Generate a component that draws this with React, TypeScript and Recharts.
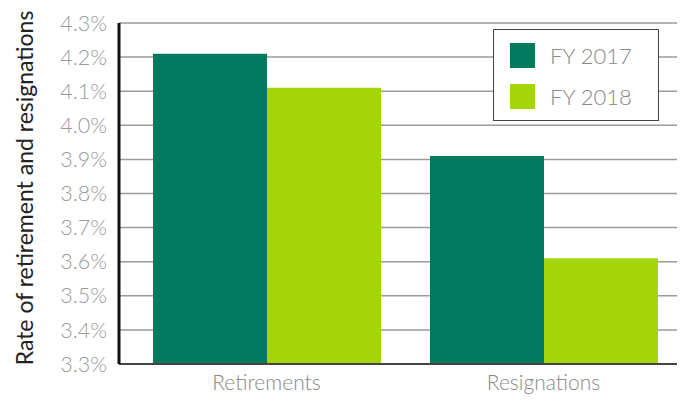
import React from 'react';
import { BarChart, Bar, XAxis, YAxis, CartesianGrid, Legend } from 'recharts';

const categories = ['Retirements', 'Resignations'];
const fy2017 = [4.21, 3.91];
const fy2018 = [4.11, 3.61];
const yTicks = [3.3, 3.4, 3.5, 3.6, 3.7, 3.8, 3.9, 4.0, 4.1, 4.2, 4.3];
const seriesNames = ['FY 2017', 'FY 2018'];
const colors = ['#007A5E', '#A3D508'];

const data = categories.map((c, i) => ({ name: c, fy2017: fy2017[i], fy2018: fy2018[i] }));

const FONT = 'Lato, sans-serif';

const LegendBox = (props: any) => {
  const payload = props.payload || [];
  return (
    <div
      style={{
        width: 166,
        height: 92,
        boxSizing: 'border-box',
        border: '1.5px solid #444',
        background: '#fff',
        padding: '13px 0 0 16px',
        fontFamily: FONT,
      }}
    >
      {payload.map((p: any, i: number) => (
        <div key={i} style={{ display: 'flex', alignItems: 'center', height: 25, marginBottom: i === 0 ? 16 : 0 }}>
          <div style={{ width: 25, height: 25, background: p.color, marginRight: 15 }} />
          <span style={{ fontSize: 22, fontWeight: 300, color: '#888', lineHeight: '25px' }}>{p.value}</span>
        </div>
      ))}
    </div>
  );
};

const YLabel = () => (
  <text
    x={33}
    y={188}
    transform="rotate(-90 33 188)"
    textAnchor="middle"
    fontFamily={FONT}
    fontSize={23}
    fill="#222"
  >
    Rate of retirement and resignations
  </text>
);

export default function App() {
  return (
    <div style={{ position: 'absolute', left: 0, top: 0, background: '#fff' }}>
      <BarChart
        width={684}
        height={404}
        data={data}
        margin={{ top: 23, right: 7, bottom: 0, left: 0 }}
        barGap={0}
        barSize={114}
      >
        <CartesianGrid horizontal vertical={false} stroke="#9a9a9a" strokeWidth={1.5} />
        <XAxis
          dataKey="name"
          height={40}
          padding={{ left: 9, right: -5 }}
          axisLine={{ stroke: '#444', strokeWidth: 2 }}
          tickLine={false}
          tickSize={0}
          tickMargin={11}
          tick={{ fontFamily: FONT, fontSize: 21, fontWeight: 300, fill: '#888' }}
        />
        <YAxis
          width={119}
          domain={[3.3, 4.3]}
          ticks={yTicks}
          interval={0}
          allowDataOverflow
          tickFormatter={(v: number) => v.toFixed(1) + '%'}
          axisLine={{ stroke: '#111', strokeWidth: 3 }}
          tickLine={false}
          tickSize={0}
          tickMargin={12}
          tick={{ fontFamily: FONT, fontSize: 21.5, fontWeight: 300, fill: '#999' }}
          label={<YLabel />}
        />
        <Legend
          layout="vertical"
          align="center"
          verticalAlign="middle"
          wrapperStyle={{ left: 493, top: 29, width: 166, height: 92 }}
          content={<LegendBox />}
        />
        <Bar dataKey="fy2017" name={seriesNames[0]} fill={colors[0]} isAnimationActive={false} />
        <Bar dataKey="fy2018" name={seriesNames[1]} fill={colors[1]} isAnimationActive={false} />
      </BarChart>
    </div>
  );
}
